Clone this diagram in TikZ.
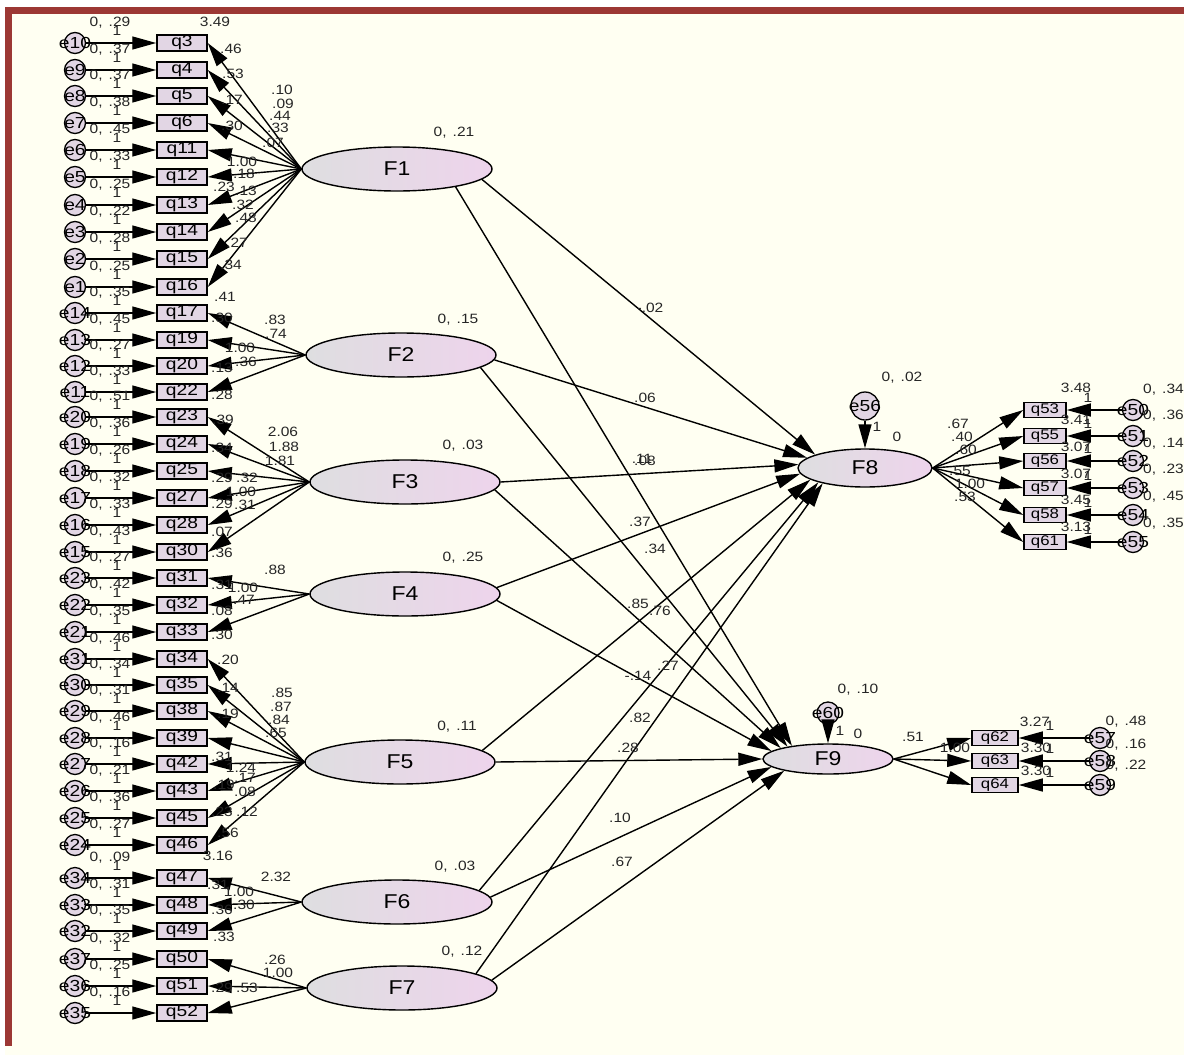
\documentclass[tikz,border=0pt]{standalone}
\usepackage{fontspec}
\setmainfont{Liberation Sans}
\newfontfamily\lblfnt[FakeStretch=1.15]{Liberation Sans}
\newfontfamily\boxfnt[FakeStretch=1.2]{Liberation Sans}
\usetikzlibrary{shapes.geometric,arrows.meta}
\definecolor{bgcream}{RGB}{255,255,242}
\definecolor{framered}{RGB}{156,56,52}
\definecolor{lgray}{RGB}{222,222,224}
\definecolor{lpink}{RGB}{238,212,236}
\definecolor{boxfill}{RGB}{226,214,228}
\newcommand{\vv}[1]{0,\hspace{0.45em}#1}
\begin{document}
\begin{tikzpicture}[x=1pt,y=-1pt,
  lat/.style={ellipse, draw=black, line width=1.4pt, left color=lgray, right color=lpink,
    minimum width=190pt, minimum height=44pt, inner sep=0pt, font=\fontsize{20}{20}\lblfnt},
  obs/.style={rectangle, draw=black, line width=1.5pt, fill=boxfill, minimum width=50pt,
    minimum height=16pt, inner sep=0pt, font=\fontsize{16}{16}\boxfnt},
  obsr/.style={obs, minimum width=42pt, minimum height=15pt, font=\fontsize{14}{14}\boxfnt},
  err/.style={circle, draw=black, line width=1.3pt, fill=boxfill, minimum size=21pt,
    inner sep=0pt, font=\fontsize{16}{16}\boxfnt},
  arr/.style={-{Triangle[length=24pt,width=13pt]}, line width=1.4pt},
  num/.style={font=\fontsize{13.5}{14}\lblfnt, inner sep=0pt, text=black!85}]
\useasboundingbox (0,0) rectangle (1184,1055);
\fill[white] (0,0) rectangle (1184,1055);
\fill[bgcream] (5,7) rectangle (1184,1055);
\fill[framered] (5,7) rectangle (1184,14);
\fill[framered] (5,7) rectangle (12,1046);

% latent variables
\node[lat] (F1) at (397,169) {F1};
\node[lat] (F2) at (401,355) {F2};
\node[lat] (F3) at (405,482) {F3};
\node[lat] (F4) at (405,594) {F4};
\node[lat] (F5) at (400,762) {F5};
\node[lat] (F6) at (397,902) {F6};
\node[lat] (F7) at (402,988) {F7};
\node[lat, minimum width=134pt, minimum height=38pt] (F8) at (865,468) {F8};
\node[lat, minimum width=130pt, minimum height=30pt] (F9) at (828,759) {F9};

% left indicators with errors
\foreach \q/\y/\e/\v in {3/43/10/.29, 4/70/9/.37, 5/96/8/.37, 6/123/7/.38, 11/150/6/.45,
  12/177/5/.33, 13/205/4/.25, 14/232/3/.22, 15/259/2/.28, 16/287/1/.25,
  17/313/14/.35, 19/340/13/.45, 20/366/12/.27, 22/392/11/.33,
  23/417/20/.51, 24/444/19/.36, 25/471/18/.26, 27/498/17/.32, 28/525/16/.33, 30/552/15/.43,
  31/578/23/.27, 32/605/22/.42, 33/632/21/.35,
  34/659/31/.46, 35/685/30/.34, 38/711/29/.31, 39/738/28/.46, 42/764/27/.16, 43/791/26/.21,
  45/818/25/.36, 46/845/24/.27,
  47/878/34/.09, 48/905/33/.31, 49/931/32/.35,
  50/959/37/.32, 51/986/36/.25, 52/1013/35/.16}{
  \node[obs] (q\q) at (182,\y) {q\q};
  \node[err] (e\e) at (75,\y) {\makebox[0pt]{e\e}};
  \draw[arr] (e\e) -- (q\q);
  \node[num] (v\q) at (110,\y-20) {\vv{\v}};
  \node[num] (o\q) at (117,\y-12) {1};
}

% loadings
\foreach \q in {3,4,5,6,11,12,13,14,15,16} \draw[arr] (F1.west) -- (q\q.east);
\foreach \q in {17,19,20,22} \draw[arr] (F2.west) -- (q\q.east);
\foreach \q in {23,24,25,27,28,30} \draw[arr] (F3.west) -- (q\q.east);
\foreach \q in {31,32,33} \draw[arr] (F4.west) -- (q\q.east);
\foreach \q in {34,35,38,39,42,43,45,46} \draw[arr] (F5.west) -- (q\q.east);
\foreach \q in {47,48,49} \draw[arr] (F6.west) -- (q\q.east);
\foreach \q in {50,51,52} \draw[arr] (F7.west) -- (q\q.east);

% right indicators F8
\foreach \q/\y/\e in {53/410/50, 55/436/51, 56/461/52, 57/488/53, 58/515/54, 61/542/55}{
  \node[obsr] (q\q) at (1045,\y) {q\q};
  \node[err] (e\e) at (1133,\y) {\makebox[0pt]{e\e}};
  \draw[arr] (e\e) -- (q\q);
  \draw[arr] (F8.east) -- (q\q.west);
  \node[num] (o\q) at (1088,\y-12) {1};
}
% right indicators F9
\foreach \q/\y/\e in {62/738/57, 63/761/58, 64/785/59}{
  \node[obsr, minimum width=46pt] (q\q) at (995,\y) {q\q};
  \node[err] (e\e) at (1100,\y) {\makebox[0pt]{e\e}};
  \draw[arr] (e\e) -- (q\q);
  \draw[arr] (F9.east) -- (q\q.west);
  \node[num] (o\q) at (1050,\y-12) {1};
}

% disturbances
\node[err, minimum size=28pt] (e56) at (865,406) {\makebox[0pt]{e56}};
\draw[arr] (e56) -- (F8);
\node[err, minimum size=22pt] (e60) at (828,713) {\makebox[0pt]{e60}};
\draw[arr] (e60) -- (F9);

% structural paths
\draw[arr] (F1.-7) -- (F8.165);
\draw[arr] (F1.-17) -- (F9.160);
\draw[arr] (F2.-3) -- (F8.170);
\draw[arr] (F2.-9) -- (F9.163);
\draw[arr] (F3.0) -- (F8.177);
\draw[arr] (F3.-5) -- (F9.167);
\draw[arr] (F4.4) -- (F8.185);
\draw[arr] (F4.-4) -- (F9.172);
\draw[arr] (F5.8) -- (F8.192);
\draw[arr] (F5.0) -- (F9.180);
\draw[arr] (F6.8) -- (F8.197);
\draw[arr] (F6.3) -- (F9.188);
\draw[arr] (F7.11) -- (F8.200);
\draw[arr] (F7.5) -- (F9.195);

% latent variances
\node[num] (vF1) at (454,133) {\vv{.21}};
\node[num] (vF2) at (458,320) {\vv{.15}};
\node[num] (vF3) at (463,446) {\vv{.03}};
\node[num] (vF4) at (463,558) {\vv{.25}};
\node[num] (vF5) at (457,727) {\vv{.11}};
\node[num] (vF6) at (455,867) {\vv{.03}};
\node[num] (vF7) at (462,952) {\vv{.12}};
\node[num] (vE56) at (902,378) {\vv{.02}};
\node[num] (vE60) at (858,690) {\vv{.10}};

% right error variances
\foreach \v/\y [count=\i] in {.34/390, .36/416, .14/444, .23/470, .45/497, .35/524}
  \node[num, anchor=west] (vr\i) at (1143,\y) {\vv{\v}};
\foreach \v/\y [count=\i] in {.48/722, .16/745, .22/766}
  \node[num] (vs\i) at (1126,\y) {\vv{\v}};

% estimates
\foreach \tx/\x/\y [count=\i] in {3.49/215/22, .46/231/49, .53/233/74, .17/232/100, .30/232/126,
  .10/282/90, .09/283/104, .44/280/116, .33/278/128, .07/273/143, 1.00/242/162, .18/244/174,
  .23/224/187, .13/246/191, .32/243/205, .48/246/218, .27/237/243, .34/231/265, .41/225/297,
  .83/275/320, .74/276/334, .30/222/318, 1.00/240/348, .36/246/362, .13/222/368, .28/222/395,
  .39/223/420, 2.06/283/432, 1.88/284/447, 1.81/280/461, .34/222/448, .29/222/478, .32/247/478,
  1.00/241/492, .29/222/504, .31/245/505, .07/222/532, .36/222/553,
  .88/275/570, .31/222/585, 1.00/243/588, .47/244/600, .08/222/611, .30/222/635,
  .20/228/660, .14/228/688, .85/282/693, .87/281/707, .84/279/720, .65/276/733, .19/228/714,
  .31/222/757, 1.24/241/768, .17/245/778, .19/224/785, .08/245/792, .23/222/812, .12/247/812,
  .56/228/833, 3.16/218/856, 2.32/276/877, .31/218/885, 1.00/239/892, .30/244/905, .36/222/910,
  .33/224/937, .26/275/960, 1.00/278/973, .29/222/988, .53/247/988,
  -.02/650/308, .06/645/398, .08/645/461, .11/642/459, .37/640/522, .34/655/549, .85/638/604,
  .76/660/611, .27/668/666, -.14/638/676, .82/640/718, .28/628/748, .10/620/818, .67/622/862,
  1/877/427, 0/897/437, .67/958/424, .40/962/437, .60/966/450, .55/960/471, 1.00/970/484,
  .53/965/497, 3.48/1076/388, 3.41/1076/420, 3.07/1076/447, 3.07/1076/474, 3.45/1076/500,
  3.13/1076/527, 1/840/731, 0/858/734, .51/913/737, 1.00/955/748, 3.27/1035/722,
  3.30/1036/748, 3.30/1036/771}
  \node[num] (n\i) at (\x,\y) {\tx};
\end{tikzpicture}
\end{document}
